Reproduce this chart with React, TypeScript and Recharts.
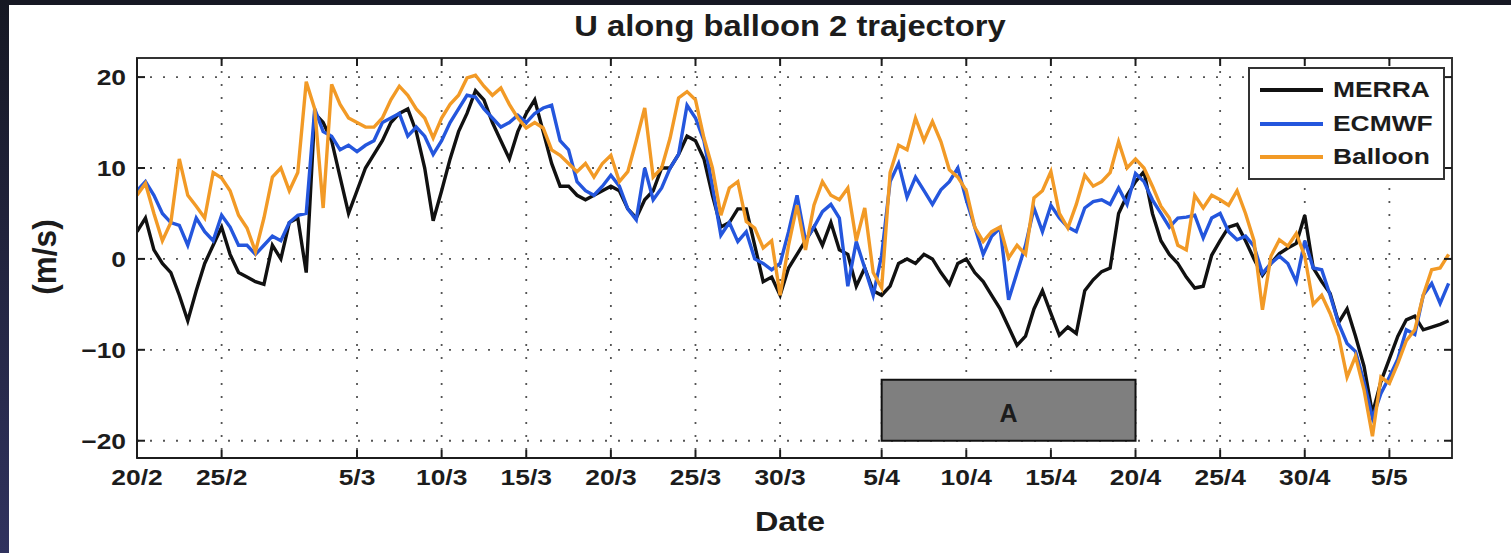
import { LineChart, Line, XAxis, YAxis, CartesianGrid, ReferenceArea } from 'recharts'

// half-day samples starting 20 Feb
const days = Array.from({ length: 156 }, (_, i) => i / 2)

const merra = [
  3, 4.5, 1, -0.5, -1.5, -4, -6.8, -3.5, -0.5, 1.5,
  3.5, 0.5, -1.5, -2, -2.5, -2.8, 1.5, 0, 4, 4.5,
  -1.5, 16, 15, 13, 9, 5, 7.5, 10, 11.5, 13,
  15, 16, 16.5, 14, 10, 4.2, 7.5, 11, 14, 16,
  18.5, 17.5, 15, 13, 11, 14, 16, 17.5, 14, 10.5,
  8, 8, 7, 6.5, 7, 7.5, 8, 7.5, 5.5, 4.5,
  6.5, 7.5, 10, 10, 11.5, 13.5, 13, 11, 7, 3.5,
  4, 5.5, 5.5, 1.5, -2.5, -2, -4, -1, 0.5, 2,
  3.5, 1.5, 4, 1, 0.5, -3, -1, -3.5, -4, -3,
  -0.5, 0, -0.5, 0.5, 0, -1.5, -2.8, -0.5, 0, -1.5,
  -2.5, -4, -5.5, -7.5, -9.5, -8.5, -5.5, -3.5, -6, -8.4,
  -7.5, -8.2, -3.5, -2.3, -1.4, -1, 5, 7, 8.5, 9.6,
  5, 2, 0.5, -0.5, -2, -3.2, -3, 0.4, 2, 3.5,
  3.8, 2, 0, -1.8, -0.5, 0.6, 1.2, 1.7, 4.8, -1,
  -2.5, -3.8, -7, -5.5, -8.5, -11.8, -17, -13.5, -11, -8.5,
  -6.7, -6.3, -7.8, -7.5, -7.2, -6.8,
]

const ecmwf = [
  7.5, 8.5, 7, 5, 4, 3.7, 1.5, 4.5, 3, 2,
  4.8, 3.5, 1.5, 1.5, 0.5, 1.5, 2.5, 2, 4, 4.8,
  5, 16.5, 14, 13.5, 12, 12.5, 11.8, 12.5, 13, 15,
  15.5, 16, 13.5, 14.5, 13.5, 11.5, 13, 15, 16.5, 18,
  17.8, 16.5, 15.5, 14.5, 15, 15.8, 15, 16, 16.6, 16.9,
  13, 12, 8.5, 7.5, 7, 8, 9.2, 8, 5.5, 4.3,
  10, 6.5, 7.8, 10, 11.5, 16.9, 15.5, 13, 8, 2.6,
  4, 1.9, 3, 0, -0.5, -1.2, -0.5, 3, 7, 2,
  3.5, 5.2, 6, 4.5, -3, 1.9, -1, -4, 0.4, 8.5,
  10.5, 6.8, 9, 7.5, 6, 7.6, 8.5, 10, 6.5, 3.5,
  0.5, 2.5, 3.4, -4.5, -1.5, 1.5, 5.6, 3, 5.9, 4.5,
  3.5, 3, 5.6, 6.3, 6.5, 6, 7.8, 6, 9.4, 8.5,
  6.5, 5, 3.5, 4.5, 4.6, 4.8, 2.3, 4.5, 5, 3,
  2.1, 2.5, 1.4, -1.6, -0.5, 0.3, -0.5, -2.5, 2, -1,
  -1.2, -4, -7.1, -9.3, -10.2, -13.5, -17.5, -14.8, -13, -11,
  -7.8, -8.3, -4, -2.7, -4.9, -2.7,
]

const balloon = [
  7, 8.3, 5, 2, 4, 11, 7, 5.8, 4.5, 9.5,
  8.9, 7.5, 4.8, 3.4, 0.8, 4.5, 9, 10, 7.5, 9.5,
  19.5, 16.5, 5.6, 19.2, 17, 15.5, 15, 14.5, 14.5, 15.5,
  17.5, 19, 18, 16.5, 15.5, 13.3, 15.5, 17, 18, 19.9,
  20.2, 19, 18, 18.8, 17, 15.5, 14.4, 15, 14.4, 12,
  11.4, 10.5, 9.6, 10.5, 9, 10.5, 11.4, 8.5, 9.6, 13,
  16.6, 9, 10, 13.3, 17.7, 18.4, 17.5, 13.3, 10, 4.8,
  7.8, 8.5, 4.1, 3.4, 1.2, 2, -4, 1.5, 5.9, 1,
  5.9, 8.5, 7, 6.5, 7.8, 2, 5.6, -1.5, -3.2, 9.5,
  12.5, 12, 15.5, 13, 15.1, 12.9, 9.8, 9, 7.5, 3.5,
  1.9, 3, 3.5, 0.1, 1.5, 0.5, 6.7, 7.5, 9.6, 5,
  3.4, 6, 9.2, 8, 8.5, 9.5, 12.9, 10, 11, 10,
  8, 5.8, 4.5, 1.5, 1, 7, 5.6, 7, 6.5, 5.9,
  7.5, 5, 2, -5.6, 0.3, 2.1, 1.4, 2.8, 0.3, -5,
  -4, -6, -8.5, -13, -10.7, -14.4, -19.5, -13, -13.7, -11.5,
  -9, -7.8, -4, -1.2, -1, 0.5,
]

const tickDays = [0, 5, 13, 18, 23, 28, 33, 38, 44, 49, 54, 59, 64, 69, 74]
const tickLabels = ['20/2', '25/2', '5/3', '10/3', '15/3', '20/3', '25/3', '30/3', '5/4', '10/4', '15/4', '20/4', '25/4', '30/4', '5/5']
const yTicks = [-20, -10, 0, 10, 20]
const seriesNames = ['MERRA', 'ECMWF', 'Balloon']
const periodA = [44, 59]
const periodALevels = [-20, -13.3]

const data = days.map((day, i) => ({ day, merra: merra[i], ecmwf: ecmwf[i], balloon: balloon[i] }))

const PLOT_LEFT = 137
const PLOT_RIGHT = 1452
const PLOT_TOP = 58
const PLOT_BOTTOM = 458
const font = '"Liberation Sans", Arial, Helvetica, sans-serif'
const ink = '#1c1c1c'
const colors = ['#111111', '#2456dd', '#f29a26']

function XTick(props: any) {
  const { x, payload } = props
  const label = tickLabels[tickDays.indexOf(payload.value)]
  return (
    <g>
      <line x1={x} x2={x} y1={PLOT_BOTTOM} y2={PLOT_BOTTOM - 8} stroke={ink} strokeWidth={2} />
      <line x1={x} x2={x} y1={PLOT_TOP} y2={PLOT_TOP + 8} stroke={ink} strokeWidth={2} />
      <text transform={`translate(${x},485) scale(1.2,1)`} textAnchor="middle" fontFamily={font} fontWeight={700} fontSize={22} fill={ink}>
        {label}
      </text>
    </g>
  )
}

function YTick(props: any) {
  const { y, payload } = props
  const v = payload.value
  const label = v < 0 ? `\u2212${-v}` : `${v}`
  return (
    <g>
      <line x1={PLOT_LEFT} x2={PLOT_LEFT + 8} y1={y} y2={y} stroke={ink} strokeWidth={2} />
      <line x1={PLOT_RIGHT} x2={PLOT_RIGHT - 8} y1={y} y2={y} stroke={ink} strokeWidth={2} />
      <text transform={`translate(${PLOT_LEFT - 11},${y + 8}) scale(1.2,1)`} textAnchor="end" fontFamily={font} fontWeight={700} fontSize={22} fill={ink}>
        {label}
      </text>
    </g>
  )
}

function DateLabel() {
  return (
    <text transform="translate(790,531) scale(1.2,1)" textAnchor="middle" fontFamily={font} fontWeight={700} fontSize={27} fill={ink}>
      Date
    </text>
  )
}

function UnitLabel() {
  return (
    <text transform="translate(48,257) rotate(-90) scale(1.05,1.1)" x={0} y={7.7} textAnchor="middle" fontFamily={font} fontWeight={700} fontSize={30} fill={ink}>
      (m/s)
    </text>
  )
}

function LegendBox() {
  return (
    <div style={{ position: 'absolute', left: 1248, top: 67, width: 197, height: 113, boxSizing: 'border-box', border: '2px solid #333', background: '#fff' }}>
      {seriesNames.map((name, i) => (
        <div key={name} style={{ position: 'absolute', left: 10, top: 8 + i * 33.5, height: 26, display: 'flex', alignItems: 'center' }}>
          <div style={{ width: 63, height: 4, background: colors[i] }} />
          <span style={{ marginLeft: 10, fontFamily: font, fontWeight: 700, fontSize: 22, color: ink, display: 'inline-block', transform: 'scaleX(1.2)', transformOrigin: 'left center', lineHeight: '26px' }}>
            {name}
          </span>
        </div>
      ))}
    </div>
  )
}

export default function App() {
  return (
    <div style={{ position: 'fixed', left: 0, top: 0, width: 1511, height: 553, background: '#fff', overflow: 'hidden' }}>
      <div style={{ position: 'absolute', left: 0, top: 0, width: 1511, height: 5, background: '#161823' }} />
      <div style={{ position: 'absolute', left: 0, top: 0, width: 9, height: 553, background: 'linear-gradient(#161823, #30325e)' }} />
      <div style={{ position: 'absolute', left: 0, top: 0 }}>
        <LineChart width={1511} height={553} data={data} margin={{ top: PLOT_TOP, right: 1511 - PLOT_RIGHT, bottom: 55, left: PLOT_LEFT - 60 }}>
          <CartesianGrid stroke="#555" strokeWidth={1.8} strokeDasharray="2 11" />
          <ReferenceArea x1={periodA[0]} x2={periodA[1]} y1={periodALevels[0]} y2={periodALevels[1]} fill="#7f7f7f" fillOpacity={1} stroke="#111" strokeWidth={2}
            label={{ value: 'A', position: 'center', fontSize: 25, fontWeight: 700, fill: ink, fontFamily: font, dy: 3 }} />
          <XAxis dataKey="day" type="number" domain={[0, 77.7]} ticks={tickDays} allowDataOverflow height={40}
            axisLine={{ stroke: ink, strokeWidth: 2 }} tickLine={false} tickSize={0} tick={<XTick />} interval={0} label={<DateLabel />} />
          <YAxis type="number" domain={[-21.9, 22.1]} ticks={yTicks} allowDataOverflow width={60}
            axisLine={{ stroke: ink, strokeWidth: 2 }} tickLine={false} tickSize={0} tick={<YTick />} interval={0} label={<UnitLabel />} />
          <ReferenceArea x1={0} x2={77.7} y1={-21.9} y2={22.1} fill="none" stroke="#333" strokeWidth={2} />
          <Line dataKey="merra" name={seriesNames[0]} stroke={colors[0]} strokeWidth={3.4} dot={false} type="linear" isAnimationActive={false} />
          <Line dataKey="ecmwf" name={seriesNames[1]} stroke={colors[1]} strokeWidth={3.4} dot={false} type="linear" isAnimationActive={false} />
          <Line dataKey="balloon" name={seriesNames[2]} stroke={colors[2]} strokeWidth={3.4} dot={false} type="linear" isAnimationActive={false} />
        </LineChart>
      </div>
      <LegendBox />
      <svg width={1511} height={553} style={{ position: 'absolute', left: 0, top: 0, pointerEvents: 'none' }}>
        <text transform="translate(790,36) scale(1.13,1)" textAnchor="middle" fontFamily={font} fontWeight={700} fontSize={29} fill={ink}>
          U along balloon 2 trajectory
        </text>
      </svg>
    </div>
  )
}
